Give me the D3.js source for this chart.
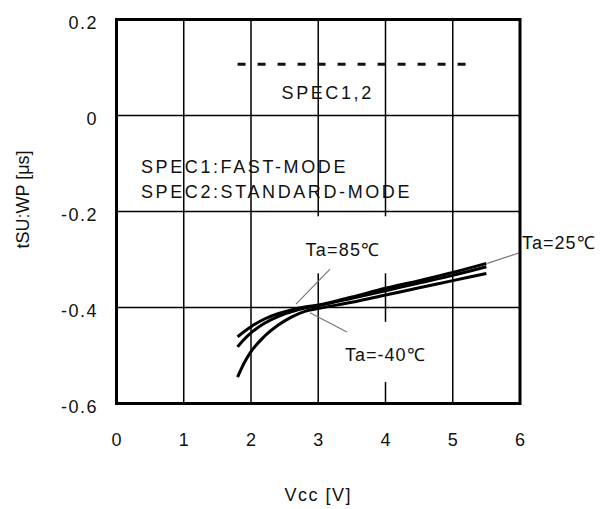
<!DOCTYPE html>
<html>
<head>
<meta charset="utf-8">
<script src="https://cdn.jsdelivr.net/npm/d3@7/dist/d3.min.js"></script>
<style>
  html, body { margin: 0; padding: 0; background: #fff; }
  svg { display: block; }
  text { font-family: "Liberation Sans", Arial, sans-serif; fill: #111; }
</style>
</head>
<body>
<svg id="chart" width="609" height="509"></svg>
<script>
// ---- data ----
const vcc = [1.8, 1.9, 2.0, 2.2, 2.4, 2.6, 2.8, 3.0, 3.5, 4.0, 4.5, 5.0, 5.5];
const ta25  = [-0.461, -0.450, -0.440, -0.424, -0.413, -0.405, -0.399, -0.395, -0.378, -0.360, -0.344, -0.327, -0.308];
const ta85  = [-0.482, -0.466, -0.453, -0.433, -0.419, -0.409, -0.401, -0.396, -0.381, -0.365, -0.349, -0.333, -0.315];
const taM40 = [-0.545, -0.515, -0.492, -0.460, -0.437, -0.420, -0.408, -0.402, -0.389, -0.374, -0.359, -0.344, -0.329];
const specX = [1.8, 5.35];
const specValue = 0.107;
const xTicks = [0, 1, 2, 3, 4, 5, 6];
const yTicks = [0.2, 0, -0.2, -0.4, -0.6];
const yTickLabels = ["0.2", "0", "-0.2", "-0.4", "-0.6"];

const svg = d3.select("#chart");
const x = d3.scaleLinear().domain([0, 6]).range([116.5, 520]);
const y = d3.scaleLinear().domain([-0.6, 0.2]).range([403.5, 19.5]);

// grid
const g = svg.append("g");
g.selectAll(".vg").data(xTicks.slice(1, -1)).enter().append("line")
  .attr("x1", d => x(d)).attr("x2", d => x(d))
  .attr("y1", y(0.2)).attr("y2", y(-0.6))
  .attr("stroke", "#000").attr("stroke-width", 1.5);
g.selectAll(".hg").data(yTicks.slice(1, -1)).enter().append("line")
  .attr("x1", x(0)).attr("x2", x(6))
  .attr("y1", d => y(d)).attr("y2", d => y(d))
  .attr("stroke", "#000").attr("stroke-width", 1.5);

// annotation label boxes (white, hide gridlines)
function labelBox(vx, vy, w, h) {
  svg.append("rect")
    .attr("x", x(vx)).attr("y", y(vy))
    .attr("width", w).attr("height", h)
    .attr("fill", "#fff");
}
labelBox(2.67, -0.21, 96, 57);
labelBox(3.33, -0.43, 100, 60);

// spec dashed line
svg.append("line")
  .attr("x1", x(specX[0])).attr("x2", x(specX[1]))
  .attr("y1", y(specValue)).attr("y2", y(specValue))
  .attr("stroke", "#111").attr("stroke-width", 3)
  .attr("stroke-dasharray", "8,12");

// curves
const line = d3.line().x(d => x(d[0])).y(d => y(d[1])).curve(d3.curveMonotoneX);
[ta25, ta85, taM40].forEach(series => {
  svg.append("path")
    .datum(vcc.map((v, i) => [v, series[i]]))
    .attr("d", line)
    .attr("fill", "none")
    .attr("stroke", "#000")
    .attr("stroke-width", 3);
});

// leader lines
function leader(a, b) {
  svg.append("line")
    .attr("x1", x(a[0])).attr("y1", y(a[1]))
    .attr("x2", x(b[0])).attr("y2", y(b[1]))
    .attr("stroke", "#777").attr("stroke-width", 1.2);
}
leader([3.175, -0.320], [2.669, -0.393]);
leader([2.877, -0.411], [3.428, -0.451]);
leader([5.514, -0.308], [5.99, -0.286]);

// frame
svg.append("rect")
  .attr("x", x(0)).attr("y", y(0.2))
  .attr("width", x(6) - x(0)).attr("height", y(-0.6) - y(0.2))
  .attr("fill", "none").attr("stroke", "#000").attr("stroke-width", 3);

// tick labels
svg.selectAll(".yl").data(yTicks).enter().append("text")
  .attr("x", 98).attr("y", d => y(d) + 3)
  .attr("text-anchor", "end").attr("dominant-baseline", "central")
  .style("font-size", "18px").style("letter-spacing", "1.5px")
  .text((d, i) => yTickLabels[i]);
svg.selectAll(".xl").data(xTicks).enter().append("text")
  .attr("x", d => x(d)).attr("y", 440)
  .attr("text-anchor", "middle").attr("dominant-baseline", "central")
  .style("font-size", "18px")
  .text(d => d);

// axis titles
svg.append("text")
  .attr("transform", `translate(23,${(y(0.2) + y(-0.6)) / 2 - 12}) rotate(-90)`)
  .attr("text-anchor", "middle").attr("dominant-baseline", "central")
  .style("font-size", "18px")
  .text("tSU:WP [μs]");
svg.append("text")
  .attr("x", (x(0) + x(6)) / 2).attr("y", 495)
  .attr("text-anchor", "middle").attr("dominant-baseline", "central")
  .style("font-size", "18px").style("letter-spacing", "1.5px")
  .text("Vcc [V]");

// annotations
function note(txt, vx, vy, anchor, spacing) {
  svg.append("text")
    .attr("x", x(vx)).attr("y", y(vy))
    .attr("text-anchor", anchor).attr("dominant-baseline", "central")
    .style("font-size", "18px").style("letter-spacing", spacing + "px")
    .text(txt);
}
note("SPEC1,2", 3.14, 0.047, "middle", 2.6);
note("SPEC1:FAST-MODE", 0.364, -0.107, "start", 2.6);
note("SPEC2:STANDARD-MODE", 0.364, -0.160, "start", 2.6);
note("Ta=85℃", 3.368, -0.280, "middle", 1.2);
note("Ta=-40℃", 3.398, -0.499, "start", 1.0);
note("Ta=25℃", 6.03, -0.266, "start", 1.0);
</script>
</body>
</html>
